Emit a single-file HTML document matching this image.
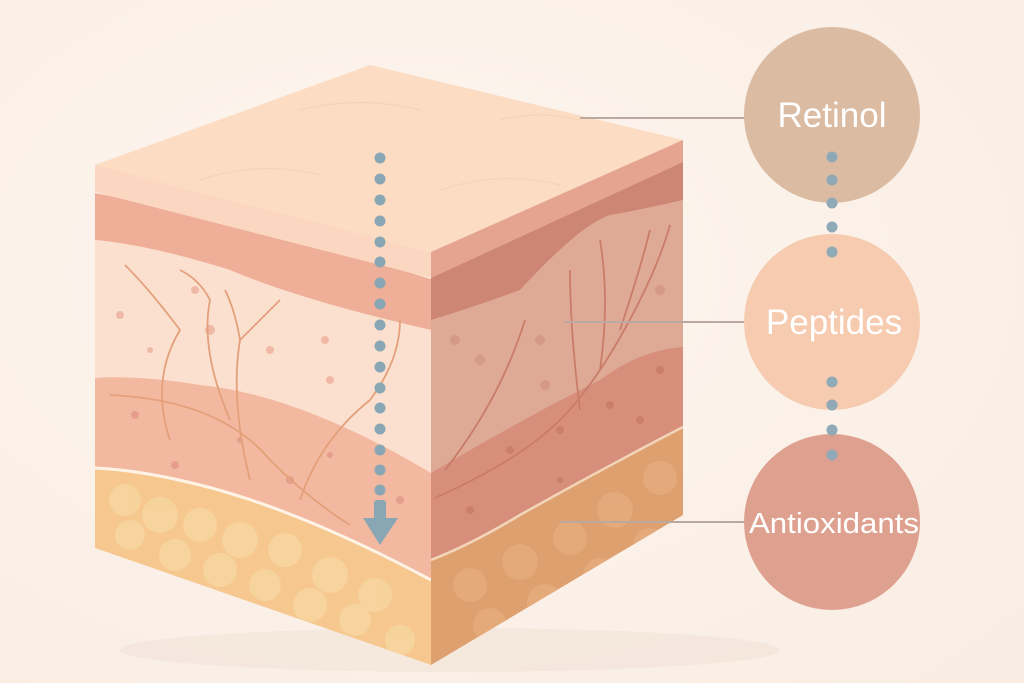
<!DOCTYPE html>
<html><head><style>
body{margin:0;background:#fcf3ec;}
svg{display:block}
text{font-family:"Liberation Sans",sans-serif;fill:#fff}
</style></head><body>
<svg width="1024" height="683" viewBox="0 0 1024 683">
<defs>
<radialGradient id="bg" cx="0.4" cy="0.4" r="0.8"><stop offset="0" stop-color="#fdf6f0"/><stop offset="1" stop-color="#f9ede3"/></radialGradient>
<clipPath id="cl"><polygon points="95,165 431,252 431,665 95,548"/></clipPath>
<clipPath id="cr"><polygon points="431,252 683,140 683,515 431,665"/></clipPath>
</defs>
<rect width="1024" height="683" fill="url(#bg)"/>
<ellipse cx="450" cy="650" rx="330" ry="22" fill="#efdfd3" opacity="0.5"/>
<!-- LEFT FACE -->
<g clip-path="url(#cl)">
<polygon points="95,165 431,252 431,665 95,548" fill="#fadcc7"/>
<path d="M95,192 Q260,225 431,278 L431,330 Q300,300 230,270 Q150,245 95,240 Z" fill="#eeae98"/>
<path d="M95,192 Q260,225 431,278" stroke="#fff5ee" stroke-width="2" fill="none"/>
<path d="M95,240 Q150,245 230,270 Q300,300 431,330 L431,473 Q300,395 200,385 Q140,375 95,378 Z" fill="#fbe0cf"/>
<path d="M95,378 Q140,375 200,385 Q300,395 431,473 L431,580 Q300,510 200,485 Q140,470 95,468 Z" fill="#f3b8a0"/>
<path d="M95,468 Q140,470 200,485 Q300,510 431,580 L431,665 L95,548 Z" fill="#f6c88f"/>
<path d="M95,468 Q140,470 200,485 Q300,510 431,580" stroke="#fff3e6" stroke-width="3" fill="none"/>
<g fill="#f8d6a0" opacity="0.8">
<circle cx="125" cy="500" r="16"/><circle cx="160" cy="515" r="18"/><circle cx="200" cy="525" r="17"/><circle cx="240" cy="540" r="18"/><circle cx="285" cy="550" r="17"/><circle cx="330" cy="575" r="18"/><circle cx="375" cy="595" r="17"/><circle cx="130" cy="535" r="15"/><circle cx="175" cy="555" r="16"/><circle cx="220" cy="570" r="17"/><circle cx="265" cy="585" r="16"/><circle cx="310" cy="605" r="17"/><circle cx="355" cy="620" r="16"/><circle cx="400" cy="640" r="15"/></g>
<g fill="#f0b9a5"><circle cx="120" cy="315" r="4"/><circle cx="195" cy="290" r="4"/><circle cx="210" cy="330" r="5"/><circle cx="270" cy="350" r="4"/><circle cx="325" cy="340" r="4"/><circle cx="330" cy="380" r="4"/><circle cx="150" cy="350" r="3"/></g>
<g fill="#e49e8b"><circle cx="135" cy="415" r="4"/><circle cx="175" cy="465" r="4"/><circle cx="240" cy="440" r="3"/><circle cx="290" cy="480" r="4"/><circle cx="330" cy="455" r="3"/><circle cx="400" cy="500" r="4"/></g>
<g stroke="#e3a07a" stroke-width="1.8" fill="none">
<path d="M110,395 Q220,400 270,460 Q310,500 350,525"/>
<path d="M230,420 Q200,350 210,300 Q200,280 180,270"/>
<path d="M170,440 Q150,380 180,330 Q150,290 125,265"/>
<path d="M250,480 Q230,400 240,340 Q235,310 225,290"/>
<path d="M300,500 Q320,440 370,400 Q400,360 400,320"/>
<path d="M240,340 Q270,310 280,300"/>
</g>
</g>
<!-- RIGHT FACE -->
<g clip-path="url(#cr)">
<polygon points="431,252 683,140 683,515 431,665" fill="#dfaa96"/>
<path d="M431,278 L683,162 L683,200 Q640,210 610,215 Q580,225 520,290 Q480,305 431,320 Z" fill="#cc8673"/>
<path d="M431,320 Q480,305 520,290 Q580,225 610,215 Q640,210 683,200 L683,347 Q640,350 600,380 Q520,420 431,473 Z" fill="#deaa96"/>
<path d="M431,473 Q520,420 600,380 Q640,350 683,347 L683,427 Q600,470 520,515 Q470,545 431,560 Z" fill="#d78f7c"/>
<path d="M431,560 Q470,545 520,515 Q600,470 683,427 L683,515 L431,665 Z" fill="#dea06e"/>
<path d="M431,560 Q470,545 520,515 Q600,470 683,427" stroke="#f3d6b9" stroke-width="2.5" fill="none"/>
<g fill="#e6ad7e" opacity="0.8"><circle cx="470" cy="585" r="17"/><circle cx="520" cy="562" r="18"/><circle cx="570" cy="538" r="17"/><circle cx="615" cy="510" r="18"/><circle cx="660" cy="478" r="17"/><circle cx="490" cy="625" r="17"/><circle cx="545" cy="602" r="18"/><circle cx="600" cy="575" r="17"/><circle cx="650" cy="545" r="17"/></g>
<g fill="#c97f6c"><circle cx="510" cy="450" r="4"/><circle cx="560" cy="430" r="4"/><circle cx="610" cy="405" r="4"/><circle cx="640" cy="420" r="4"/><circle cx="660" cy="370" r="4"/><circle cx="470" cy="510" r="4"/><circle cx="560" cy="480" r="3"/></g>
<g fill="#d59a87"><circle cx="455" cy="340" r="5"/><circle cx="480" cy="360" r="5"/><circle cx="540" cy="340" r="5"/><circle cx="545" cy="385" r="5"/><circle cx="660" cy="290" r="5"/></g>
<g stroke="#c97c66" stroke-width="1.8" fill="none">
<path d="M445,470 Q500,400 525,320"/>
<path d="M435,498 Q520,460 560,420 Q600,380 640,300 Q660,260 670,225"/>
<path d="M580,410 Q570,330 570,270"/>
<path d="M600,370 Q610,300 600,240"/>
<path d="M620,330 Q640,270 650,230"/>
</g>
</g>
<!-- TOP FACE -->
<polygon points="95,165 370,65 683,140 431,252" fill="#fcdcc3"/>
<path d="M95,165 L431,252 L431,278 L95,192 Z" fill="#fbd7c1"/>
<path d="M431,252 L683,140 L683,162 L431,278 Z" fill="#e4a48f"/>
<g stroke="#f5cfb5" stroke-width="1.2" fill="none" opacity="0.8"><path d="M200,180 Q260,160 320,175"/><path d="M300,110 Q360,95 420,110"/><path d="M440,190 Q500,170 560,185"/><path d="M500,120 Q540,110 580,120"/></g>
<!-- Arrow -->
<g fill="#89a6b4">
<circle cx="380" cy="158" r="5.5"/><circle cx="380" cy="179" r="5.5"/><circle cx="380" cy="200" r="5.5"/><circle cx="380" cy="221" r="5.5"/><circle cx="380" cy="242" r="5.5"/><circle cx="380" cy="262" r="5.5"/><circle cx="380" cy="283" r="5.5"/><circle cx="380" cy="304" r="5.5"/><circle cx="380" cy="325" r="5.5"/><circle cx="380" cy="346" r="5.5"/><circle cx="380" cy="367" r="5.5"/><circle cx="380" cy="388" r="5.5"/><circle cx="380" cy="408" r="5.5"/><circle cx="380" cy="429" r="5.5"/><circle cx="380" cy="450" r="5.5"/><circle cx="380" cy="470" r="5.5"/><circle cx="380" cy="490" r="5.5"/>
<rect x="374" y="500" width="12" height="20" rx="3"/>
<polygon points="363,518 398,518 380,545"/>
</g>
<!-- connectors -->
<g stroke="#b9a9a0" stroke-width="2"><line x1="580" y1="118" x2="745" y2="118"/><line x1="565" y1="322" x2="745" y2="322"/><line x1="560" y1="522" x2="745" y2="522"/></g>
<circle cx="832" cy="115" r="88" fill="#dbbba2"/>
<circle cx="832" cy="322" r="88" fill="#f6cbaf"/>
<circle cx="832" cy="522" r="88" fill="#dfa18f"/>
<g fill="#8fa9b6"><circle cx="832" cy="157" r="5.5"/><circle cx="832" cy="180" r="5.5"/><circle cx="832" cy="203" r="5.5"/><circle cx="832" cy="227" r="5.5"/><circle cx="832" cy="252" r="5.5"/><circle cx="832" cy="382" r="5.5"/><circle cx="832" cy="405" r="5.5"/><circle cx="832" cy="430" r="5.5"/><circle cx="832" cy="455" r="5.5"/></g>
<text x="832" y="127" font-size="35" text-anchor="middle">Retinol</text>
<text x="834" y="334" font-size="35" text-anchor="middle">Peptides</text>
<text x="834" y="533" font-size="29" text-anchor="middle" textLength="170" lengthAdjust="spacingAndGlyphs">Antioxidants</text>
</svg>
</body></html>
